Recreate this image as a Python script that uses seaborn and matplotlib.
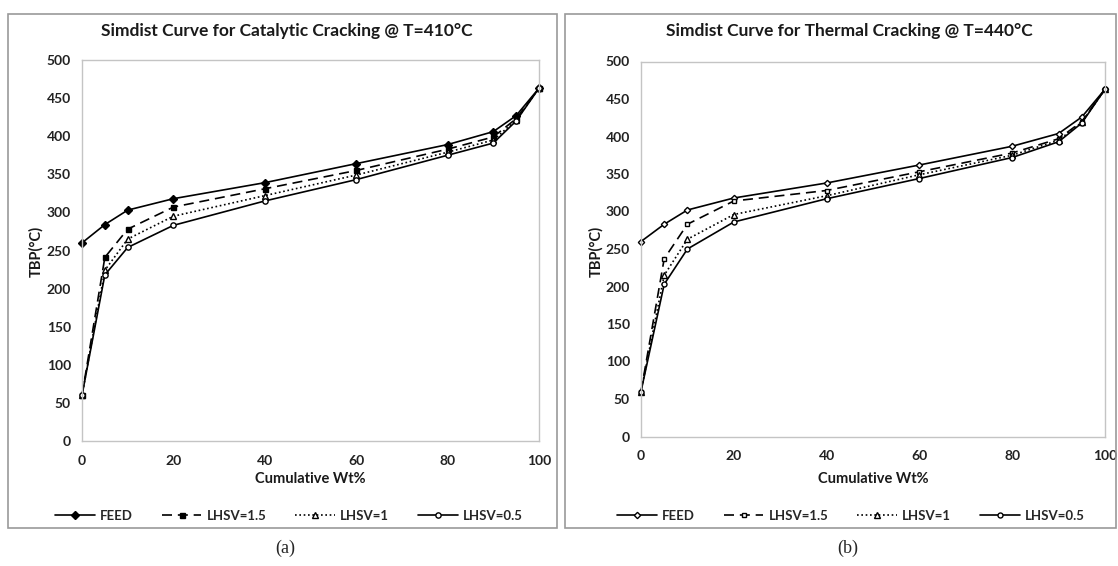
import matplotlib
matplotlib.use("Agg")
import matplotlib.pyplot as plt
import matplotlib.patches as patches
import seaborn as sns
import pandas as pd

# ---------------- data ----------------
wt_pct = [0, 5, 10, 20, 40, 60, 80, 90, 95, 100]

feed_a = [260, 284, 303, 318, 339, 364, 389, 406, 427, 463]
lhsv15_a = [60, 241, 278, 307, 331, 355, 383, 399, 423, 463]
lhsv1_a = [60, 224, 265, 295, 322, 349, 379, 395, 421, 463]
lhsv05_a = [60, 218, 254, 283, 315, 343, 375, 391, 420, 463]

feed_b = [260, 283, 302, 318, 338, 362, 387, 404, 426, 463]
lhsv15_b = [60, 237, 283, 314, 328, 353, 378, 397, 420, 463]
lhsv1_b = [60, 215, 263, 296, 321, 349, 375, 395, 419, 463]
lhsv05_b = [60, 203, 250, 286, 317, 344, 372, 393, 418, 463]

series_names = ["FEED", "LHSV=1.5", "LHSV=1", "LHSV=0.5"]
titles = ["Simdist Curve for Catalytic Cracking @ T=410°C",
          "Simdist Curve for Thermal Cracking @ T=440°C"]
panel_tags = ["(a)", "(b)"]
y_ticks = list(range(0, 501, 50))
x_ticks = list(range(0, 101, 20))

# ---------------- style ----------------
sns.set_theme(style="white")
plt.rcParams["font.family"] = ["Lato", "DejaVu Sans"]
plt.rcParams["font.weight"] = "bold"

W, H = 1118, 566
fig = plt.figure(figsize=(W / 100, H / 100), dpi=100)

def fx(px):
    return px / W

def fy(py):
    return 1 - py / H

# panel outer borders
for (x0, x1) in [(8, 557), (565, 1116)]:
    fig.patches.append(patches.Rectangle((fx(x0), fy(528)), fx(x1 - x0), (528 - 14) / H,
                                         transform=fig.transFigure, fill=False,
                                         edgecolor="#9a9a9a", linewidth=1.2))

axes_px = [(82, 539, 60, 441), (641, 1105, 61.5, 436.5)]
title_x = [287, 849]
ylabel_x = [36, 596]
tag_x = [285, 848]

styles = {
    "a": [
        dict(marker="D", mfc="black", ls="-", ms=3.8),
        dict(marker="s", mfc="black", ls=(0, (6, 3.5)), ms=3.6),
        dict(marker="^", mfc="white", ls=(0, (1, 1.6)), ms=4.0),
        dict(marker="o", mfc="white", ls="-", ms=3.8),
    ],
    "b": [
        dict(marker="D", mfc="white", ls="-", ms=3.2),
        dict(marker="s", mfc="white", ls=(0, (6, 3.5)), ms=3.4),
        dict(marker="^", mfc="white", ls=(0, (1, 1.6)), ms=3.8),
        dict(marker="o", mfc="white", ls="-", ms=3.6),
    ],
}

data_sets = [
    ("a", [feed_a, lhsv15_a, lhsv1_a, lhsv05_a]),
    ("b", [feed_b, lhsv15_b, lhsv1_b, lhsv05_b]),
]

for i, (key, ys) in enumerate(data_sets):
    l, r, t, b = axes_px[i]
    ax = fig.add_axes([fx(l), fy(b), fx(r - l), (b - t) / H])
    for name, yv, st in zip(series_names, ys, styles[key]):
        df = pd.DataFrame({"x": wt_pct, "y": yv})
        sns.lineplot(data=df, x="x", y="y", ax=ax, color="black", linewidth=1.2,
                     linestyle=st["ls"], marker=st["marker"], markersize=st["ms"],
                     markerfacecolor=st["mfc"], markeredgecolor="black",
                     markeredgewidth=1.0, label=name, legend=False, clip_on=False)
    ax.set_xlim(0, 100)
    ax.set_ylim(0, 500)
    ax.set_xticks(x_ticks)
    ax.set_yticks(y_ticks)
    ax.tick_params(axis="both", length=0, labelsize=10, colors="#222222")
    ax.tick_params(axis="y", pad=8)
    ax.tick_params(axis="x", pad=10)
    for lab in ax.get_xticklabels() + ax.get_yticklabels():
        lab.set_fontweight("bold")
    for sp in ax.spines.values():
        sp.set_color("#c4c4c4")
        sp.set_linewidth(1.0)
    ax.set_xlabel("")
    ax.set_ylabel("")
    ax.grid(False)

    fig.text(fx(title_x[i]), fy(31), titles[i], ha="center", va="center",
             fontsize=12.5, fontweight="bold", color="#1a1a1a")
    fig.text(fx((l + r) / 2), fy(479), "Cumulative Wt%", ha="center", va="center",
             fontsize=10.5, fontweight="bold", color="#1a1a1a")
    fig.text(fx(ylabel_x[i]), fy(251), "TBP(°C)", ha="center", va="center",
             rotation=90, fontsize=10.5, fontweight="bold", color="#1a1a1a")

    handles, labels = ax.get_legend_handles_labels()
    fig.legend(handles, labels, loc="center", bbox_to_anchor=(fx(title_x[i] + 2), fy(516)),
               ncol=4, frameon=False, handlelength=3.0, handletextpad=0.4,
               columnspacing=2.2, numpoints=1, prop={"weight": "bold", "size": 9.5})

    fig.text(fx(tag_x[i]), fy(548), panel_tags[i], ha="center", va="center",
             fontsize=13, family=["Liberation Serif", "DejaVu Serif"], fontweight="normal")

fig.savefig("out.png", dpi=100, facecolor="white")
